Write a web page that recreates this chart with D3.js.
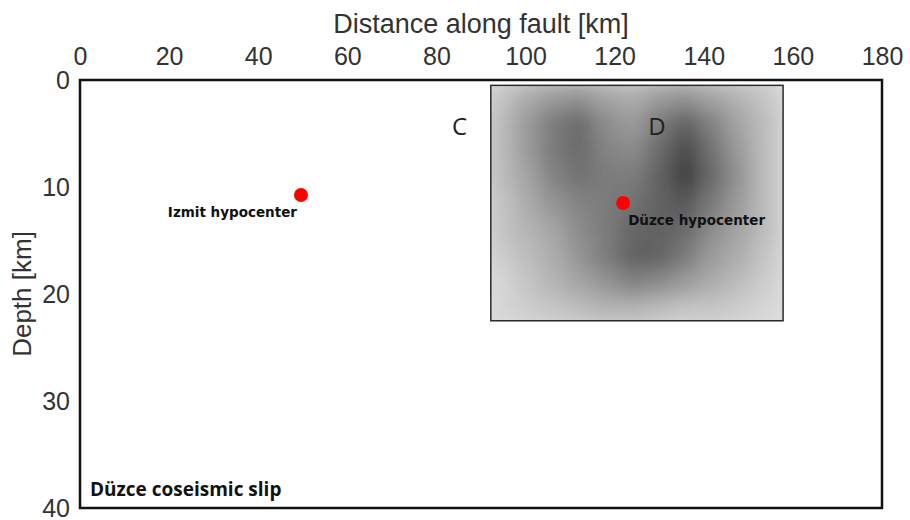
<!DOCTYPE html>
<html>
<head>
<meta charset="utf-8">
<script src="https://cdn.jsdelivr.net/npm/d3@7"></script>
<style>
  body { margin: 0; background: #fff; }
  svg { display: block; }
</style>
</head>
<body>
<div id="chart"></div>
<script>
// axis ticks
const xTicks = [0, 20, 40, 60, 80, 100, 120, 140, 160, 180];
const yTicks = [0, 10, 20, 30, 40];

// slip model grid (km along fault, km depth, slip in m)
const slipCols = [94, 100, 106, 112, 118, 124, 130, 136, 142, 148, 154];
const slipRows = [1.5, 4, 6.5, 9, 11.5, 14, 16.5, 19, 21.5];
const slip = [
  [0.6, 1.2, 1.6, 1.8, 1.4, 1.2, 1.6, 1.8, 1.4, 1.0, 0.6],
  [0.8, 1.6, 2.4, 2.8, 2.0, 1.6, 2.4, 3.0, 2.2, 1.4, 0.8],
  [0.8, 1.6, 2.4, 2.8, 2.2, 2.0, 2.8, 3.6, 2.6, 1.6, 0.8],
  [0.8, 1.4, 2.2, 2.6, 2.4, 2.4, 3.0, 3.9, 2.8, 1.8, 0.8],
  [0.6, 1.2, 1.8, 2.2, 2.4, 2.6, 3.0, 3.2, 2.4, 1.6, 0.8],
  [0.6, 1.0, 1.4, 2.0, 2.4, 2.9, 3.0, 2.8, 2.0, 1.4, 0.8],
  [0.4, 0.8, 1.2, 1.8, 2.4, 3.0, 3.0, 2.4, 1.6, 1.2, 0.6],
  [0.2, 0.6, 1.0, 1.4, 1.8, 2.2, 2.0, 1.6, 1.2, 0.8, 0.4],
  [0.2, 0.4, 0.6, 0.8, 1.0, 1.0, 0.8, 0.6, 0.6, 0.4, 0.2]
];
const slipMax = 4;
const patch = { x0: 92.2, x1: 157.8, d0: 0.5, d1: 22.5 };

const hypocenters = [
  { name: "Izmit hypocenter", x: 49.6, depth: 10.75, anchor: "end", dx: -4, dy: 22 },
  { name: "Düzce hypocenter", x: 121.9, depth: 11.5, anchor: "start", dx: 5, dy: 22 }
];
const faultLabels = [
  { name: "C", x: 85.2, depth: 5.1 },
  { name: "D", x: 129.5, depth: 5.1 }
];

const width = 910, height = 520;

const svg = d3.select("#chart").append("svg")
  .attr("width", width)
  .attr("height", height);

const x = d3.scaleLinear().domain([0, 180]).range([80, 882]);
const y = d3.scaleLinear().domain([0, 40]).range([80, 508]);
const grey = d3.scaleLinear().domain([0, slipMax]).range(["#dfdfdf", "#383838"]);

const defs = svg.append("defs");
defs.append("clipPath").attr("id", "patchClip")
  .append("rect")
  .attr("x", x(patch.x0)).attr("y", y(patch.d0))
  .attr("width", x(patch.x1) - x(patch.x0))
  .attr("height", y(patch.d1) - y(patch.d0));
defs.append("filter").attr("id", "smooth")
  .attr("x", "-20%").attr("y", "-20%").attr("width", "140%").attr("height", "140%")
  .append("feGaussianBlur").attr("stdDeviation", 10);

// slip patch
const patchG = svg.append("g").attr("clip-path", "url(#patchClip)");
patchG.append("rect")
  .attr("x", x(patch.x0)).attr("y", y(patch.d0))
  .attr("width", x(patch.x1) - x(patch.x0))
  .attr("height", y(patch.d1) - y(patch.d0))
  .attr("fill", "#e0e0e0");

const cells = [];
slipRows.forEach((d, i) => slipCols.forEach((c, j) => cells.push({ c, d, v: slip[i][j] })));
const dc = 6, dd = 2.5;

patchG.append("g").attr("filter", "url(#smooth)")
  .selectAll("rect")
  .data(cells)
  .enter()
  .append("rect")
  .attr("x", d => x(d.c - dc / 2))
  .attr("y", d => y(d.d - dd / 2))
  .attr("width", x(dc) - x(0) + 0.5)
  .attr("height", y(dd) - y(0) + 0.5)
  .attr("fill", d => grey(d.v));

svg.append("rect")
  .attr("x", x(patch.x0)).attr("y", y(patch.d0))
  .attr("width", x(patch.x1) - x(patch.x0))
  .attr("height", y(patch.d1) - y(patch.d0))
  .attr("fill", "none")
  .attr("stroke", "#2a2a2a")
  .attr("stroke-width", 1.5);

// frame
svg.append("rect")
  .attr("x", x(0)).attr("y", y(0))
  .attr("width", x(180) - x(0))
  .attr("height", y(40) - y(0))
  .attr("fill", "none")
  .attr("stroke", "#111")
  .attr("stroke-width", 2.5);

// axes
const xAxis = svg.append("g")
  .attr("transform", `translate(0,${y(0) - 15})`)
  .call(d3.axisTop(x).tickValues(xTicks).tickSize(0).tickPadding(0));
const yAxis = svg.append("g")
  .attr("transform", `translate(${x(0) - 10},0)`)
  .call(d3.axisLeft(y).tickValues(yTicks).tickSize(0).tickPadding(0));
[xAxis, yAxis].forEach(a => {
  a.select(".domain").remove();
  a.selectAll("text")
    .attr("font-family", "Liberation Sans, Arial, sans-serif")
    .attr("font-size", 25)
    .attr("fill", "#333");
});
yAxis.selectAll("text").attr("dy", "0.32em");

svg.append("text")
  .attr("x", (x(0) + x(180)) / 2)
  .attr("y", 33)
  .attr("text-anchor", "middle")
  .attr("font-family", "Liberation Sans, Arial, sans-serif")
  .attr("font-size", 27)
  .attr("fill", "#333")
  .text("Distance along fault [km]");

svg.append("text")
  .attr("transform", `translate(31,${(y(0) + y(40)) / 2}) rotate(-90)`)
  .attr("text-anchor", "middle")
  .attr("font-family", "Liberation Sans, Arial, sans-serif")
  .attr("font-size", 26)
  .attr("fill", "#333")
  .text("Depth [km]");

// fault segment labels
svg.selectAll(".seg")
  .data(faultLabels)
  .enter()
  .append("text")
  .attr("class", "seg")
  .attr("x", d => x(d.x))
  .attr("y", d => y(d.depth))
  .attr("text-anchor", "middle")
  .attr("font-family", "Open Sans, sans-serif")
  .attr("font-size", 24)
  .attr("fill", "#222")
  .text(d => d.name);

// hypocenters
svg.selectAll(".hypo")
  .data(hypocenters)
  .enter()
  .append("circle")
  .attr("class", "hypo")
  .attr("cx", d => x(d.x))
  .attr("cy", d => y(d.depth))
  .attr("r", 7)
  .attr("fill", "#ff0000");

svg.selectAll(".hypoLabel")
  .data(hypocenters)
  .enter()
  .append("text")
  .attr("class", "hypoLabel")
  .attr("x", d => x(d.x) + d.dx)
  .attr("y", d => y(d.depth) + d.dy)
  .attr("text-anchor", d => d.anchor)
  .attr("font-family", "'DejaVu Sans', sans-serif")
  .attr("font-weight", "bold")
  .attr("font-size", 13.5)
  .attr("fill", "#111")
  .text(d => d.name);

svg.append("text")
  .attr("x", 90)
  .attr("y", 496)
  .attr("font-family", "Open Sans, sans-serif")
  .attr("font-weight", "bold")
  .attr("font-size", 19)
  .attr("fill", "#111")
  .text("Düzce coseismic slip");
</script>
</body>
</html>
